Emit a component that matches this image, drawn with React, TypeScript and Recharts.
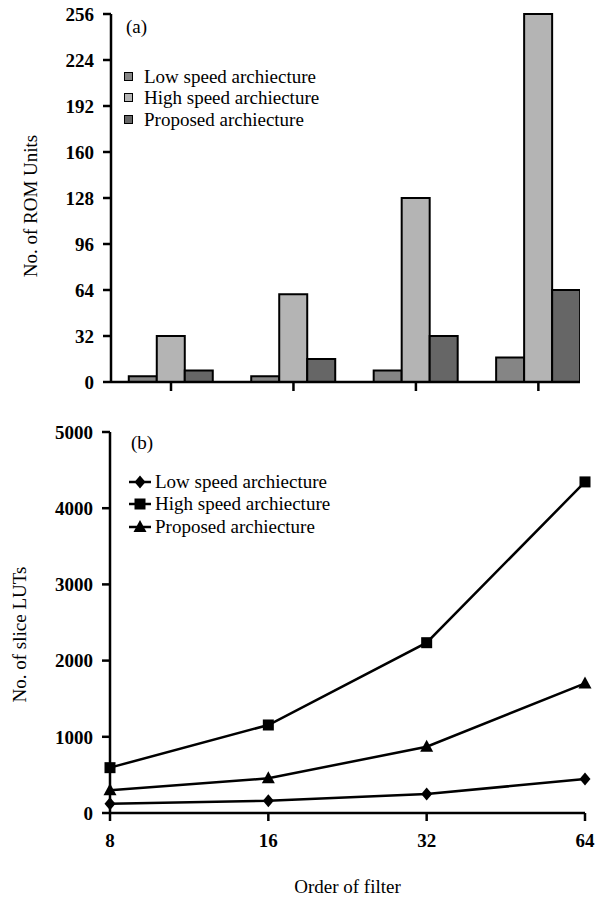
import { BarChart, Bar, LineChart, Line, XAxis, YAxis, Legend } from 'recharts'

const orders = ['8', '16', '32', '64']
const seriesNames = ['Low speed archiecture', 'High speed archiecture', 'Proposed archiecture']

// (a) ROM units
const romLow = [4, 4, 8, 17]
const romHigh = [32, 61, 128, 256]
const romProposed = [8, 16, 32, 64]
const romTicks = [0, 32, 64, 96, 128, 160, 192, 224, 256]

// (b) slice LUTs
const lutLow = [120, 160, 250, 445]
const lutHigh = [595, 1155, 2235, 4345]
const lutProposed = [300, 455, 870, 1700]
const lutTicks = [0, 1000, 2000, 3000, 4000, 5000]

const FONT = '"Liberation Serif", "Times New Roman", serif'
const barColors = ['#858585', '#b4b4b4', '#666666']

const romData = orders.map((o, i) => ({ idx: i, order: o, low: romLow[i], high: romHigh[i], proposed: romProposed[i] }))
const lutData = orders.map((o, i) => ({ order: o, low: lutLow[i], high: lutHigh[i], proposed: lutProposed[i] }))

const tickStyle = { fill: '#000', fontSize: 19, fontWeight: 'bold' as const, fontFamily: FONT }

function AxisTitle({ viewBox, text, dx, dy }: any) {
  const x = viewBox.x + dx
  const y = viewBox.y + viewBox.height / 2 + dy
  return (
    <text x={x} y={y} transform={`rotate(-90, ${x}, ${y})`} textAnchor="middle" dominantBaseline="middle"
      style={{ fontFamily: FONT, fontSize: 19, fill: '#000' }}>
      {text}
    </text>
  )
}

function BarLegend() {
  return (
    <div style={{ fontFamily: FONT, fontSize: 19, lineHeight: '21.5px', color: '#000', textAlign: 'left' }}>
      <div style={{ paddingLeft: 2, marginBottom: 28 }}>(a)</div>
      {seriesNames.map((n, i) => (
        <div key={n} style={{ display: 'flex', alignItems: 'center', whiteSpace: 'nowrap' }}>
          <span style={{ width: 7, height: 7, background: barColors[i], border: '1.5px solid #000', marginRight: 11, display: 'inline-block' }} />
          {n}
        </div>
      ))}
    </div>
  )
}

function Marker({ kind, cx, cy }: { kind: string; cx: number; cy: number }) {
  if (kind === 'diamond') return <polygon points={`${cx},${cy - 6.5} ${cx + 5.5},${cy} ${cx},${cy + 6.5} ${cx - 5.5},${cy}`} fill="#000" />
  if (kind === 'square') return <rect x={cx - 5.5} y={cy - 5.5} width={11} height={11} fill="#000" />
  return <polygon points={`${cx},${cy - 7} ${cx + 6.5},${cy + 5} ${cx - 6.5},${cy + 5}`} fill="#000" />
}

const markerKinds = ['diamond', 'square', 'triangle']

function LineLegend() {
  return (
    <div style={{ fontFamily: FONT, fontSize: 19, lineHeight: '22.5px', color: '#000', textAlign: 'left' }}>
      <div style={{ paddingLeft: 2, marginBottom: 16 }}>(b)</div>
      {seriesNames.map((n, i) => (
        <div key={n} style={{ display: 'flex', alignItems: 'center', whiteSpace: 'nowrap' }}>
          <svg width={22} height={16} style={{ marginRight: 4 }}>
            <line x1={0} y1={8} x2={22} y2={8} stroke="#000" strokeWidth={2.5} />
            <Marker kind={markerKinds[i]} cx={11} cy={8} />
          </svg>
          {n}
        </div>
      ))}
    </div>
  )
}

const dotFor = (kind: string) => (p: any) => <Marker key={`${kind}-${p.index}`} kind={kind} cx={p.cx} cy={p.cy} />

export default function App() {
  return (
    <div style={{ position: 'absolute', left: 0, top: 0, width: 613, height: 898, background: '#fff' }}>
      <div style={{ position: 'absolute', left: 0, top: 0 }}>
        <BarChart width={613} height={400} data={romData} barSize={28} barGap={0}
          margin={{ top: 14, right: 33, left: 0, bottom: 8 }}>
          <XAxis type="number" dataKey="idx" domain={[-0.49, 3.34]} ticks={[0, 1, 2, 3]} allowDataOverflow
            height={10} tickSize={9} tickFormatter={() => ''}
            axisLine={{ stroke: '#000', strokeWidth: 2.5 }} tickLine={{ stroke: '#000', strokeWidth: 2.5 }} />
          <YAxis width={111} domain={[0, 256]} ticks={romTicks} interval={0} tickSize={8} tickMargin={9}
            tick={tickStyle} axisLine={{ stroke: '#000', strokeWidth: 2.5 }} tickLine={{ stroke: '#000', strokeWidth: 2.5 }}
            label={(p: any) => <AxisTitle viewBox={p.viewBox} text="No. of ROM Units" dx={33} dy={8} />} />
          <Legend content={<BarLegend />} layout="vertical" verticalAlign="middle" align="center"
            wrapperStyle={{ top: 16, left: 124, width: 'auto', height: 'auto' }} />
          <Bar dataKey="low" name={seriesNames[0]} fill={barColors[0]} stroke="#000" strokeWidth={2} isAnimationActive={false} />
          <Bar dataKey="high" name={seriesNames[1]} fill={barColors[1]} stroke="#000" strokeWidth={2} isAnimationActive={false} />
          <Bar dataKey="proposed" name={seriesNames[2]} fill={barColors[2]} stroke="#000" strokeWidth={2} isAnimationActive={false} />
        </BarChart>
      </div>
      <div style={{ position: 'absolute', left: 0, top: 420 }}>
        <LineChart width={613} height={478} data={lutData} margin={{ top: 12, right: 28, left: 0, bottom: 0 }}>
          <XAxis dataKey="order" height={85} tickSize={8} tickMargin={13} tick={tickStyle} interval={0}
            axisLine={{ stroke: '#000', strokeWidth: 2.5 }} tickLine={{ stroke: '#000', strokeWidth: 2.5 }}
            label={{ value: 'Order of filter', position: 'insideBottom', offset: 5, style: { fontFamily: FONT, fontSize: 19, fill: '#000' } }} />
          <YAxis width={110} domain={[0, 5000]} ticks={lutTicks} interval={0} tickSize={8} tickMargin={9}
            tick={tickStyle} axisLine={{ stroke: '#000', strokeWidth: 2.5 }} tickLine={{ stroke: '#000', strokeWidth: 2.5 }}
            label={(p: any) => <AxisTitle viewBox={p.viewBox} text="No. of slice LUTs" dx={22} dy={12} />} />
          <Legend content={<LineLegend />} layout="vertical" verticalAlign="middle" align="center"
            wrapperStyle={{ top: 12, left: 129, width: 'auto', height: 'auto' }} />
          <Line type="linear" dataKey="low" name={seriesNames[0]} stroke="#000" strokeWidth={2.5} dot={dotFor('diamond')} isAnimationActive={false} />
          <Line type="linear" dataKey="high" name={seriesNames[1]} stroke="#000" strokeWidth={2.5} dot={dotFor('square')} isAnimationActive={false} />
          <Line type="linear" dataKey="proposed" name={seriesNames[2]} stroke="#000" strokeWidth={2.5} dot={dotFor('triangle')} isAnimationActive={false} />
        </LineChart>
      </div>
    </div>
  )
}
